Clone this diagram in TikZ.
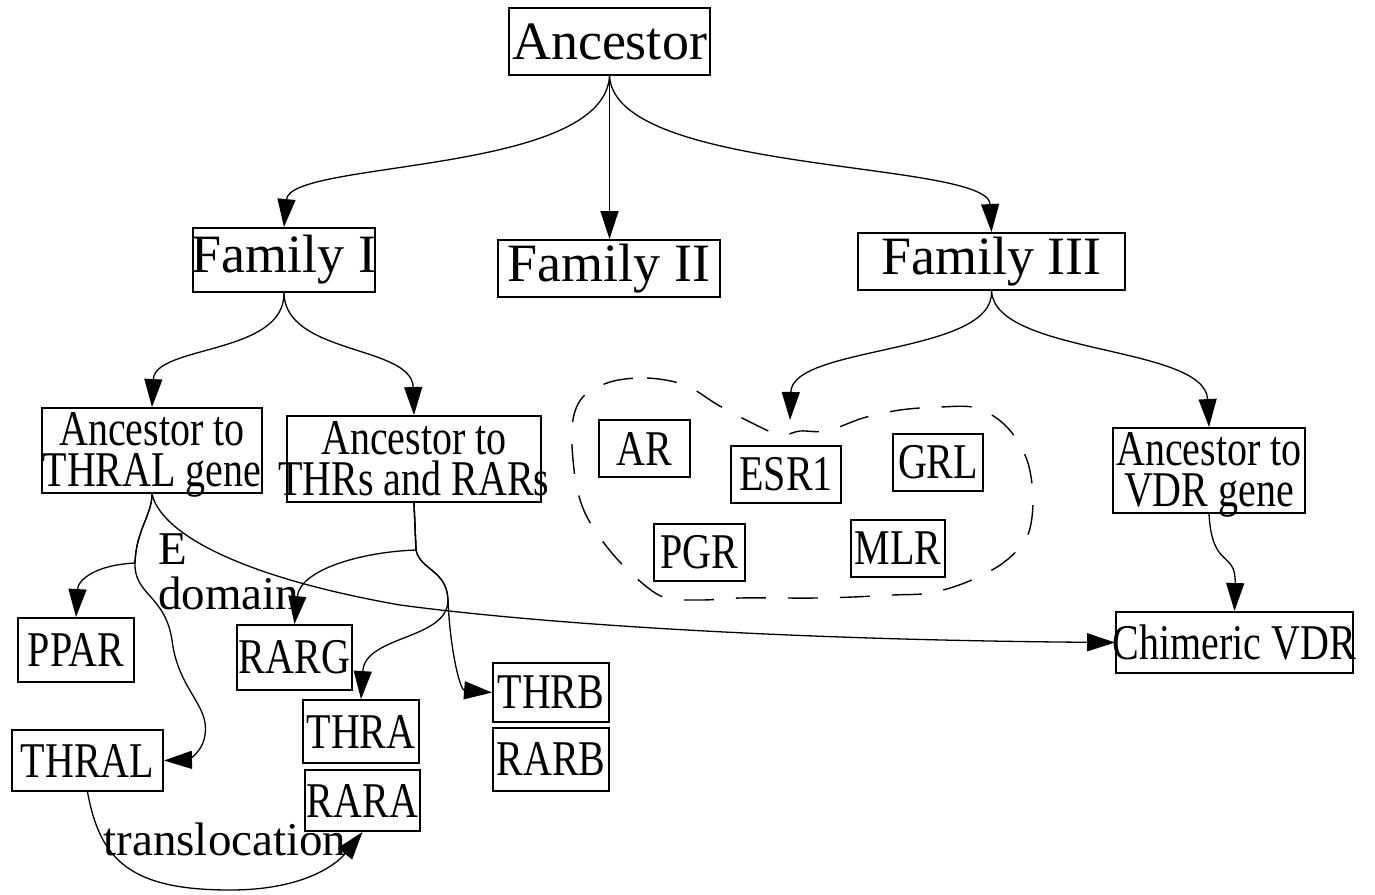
\documentclass[tikz,border=0pt]{standalone}
\usepackage{fontspec}
\setmainfont{Liberation Serif}
\newfontfamily\condfont[FakeStretch=0.8]{Liberation Serif}
\usetikzlibrary{arrows.meta}
\newcommand\zc[1]{\makebox[0pt]{#1}}
\begin{document}
\begin{tikzpicture}[x=1pt,y=-1pt,
  box/.style={draw, line width=1.9pt, inner sep=0pt, align=center},
  topbox/.style={box, font=\fontsize{54}{56}\selectfont},
  gene/.style={box, font=\condfont\fontsize{50}{41}\selectfont},
  twoline/.style={gene, text height=72pt, text depth=0pt},
  edge/.style={line width=1.3pt, -{Triangle[length=28pt,width=18pt]}},
  lbl/.style={font=\fontsize{47}{45}\selectfont, inner sep=0pt, align=left},
  clus/.style={line width=1.4pt, dash pattern=on 30pt off 22pt}]
\useasboundingbox (0,0) rectangle (1375,894);

% top level
\node[topbox, minimum width=201pt, minimum height=67pt] (anc) at (609.5,41.5) {\zc{Ancestor}};
\node[topbox, minimum width=182pt, minimum height=64pt] (f1) at (284,260) {\zc{Family I}};
\node[topbox, minimum width=222pt, minimum height=57pt] (f2) at (609,268.5) {\zc{Family II}};
\node[topbox, minimum width=267pt, minimum height=57pt] (f3) at (991.5,261.5) {\zc{Family III}};

% second level
\node[twoline, minimum width=220pt, minimum height=85pt] (athral) at (152,450.5) {\zc{Ancestor to}\\\zc{THRAL gene}};
\node[twoline, minimum width=254pt, minimum height=86pt] (athr) at (414,459) {\zc{Ancestor to}\\\zc{THRs and RARs}};
\node[twoline, minimum width=192pt, minimum height=85pt] (avdr) at (1209,470.5) {\zc{Ancestor to}\\\zc{VDR gene}};

% cluster
\draw[clus] plot[smooth cycle, tension=0.55] coordinates {
  (610,382) (647,378) (685,385) (718,405) (752,423) (780,435) (800,431) (827,431)
  (863,418) (900,410) (940,407) (977,408) (1007,427) (1027,460) (1033,500)
  (1027,537) (1003,563) (967,582) (930,593) (893,595) (853,597) (817,598)
  (777,598) (740,598) (700,600) (663,597) (633,575) (607,547) (585,513)
  (575,477) (572,427) (582,398)};
\coordinate (clu) at (790,420);
\node[gene, minimum width=91pt, minimum height=57pt] (ar) at (644.5,448.5) {\zc{AR}};
\node[gene, minimum width=110pt, minimum height=57pt] (esr) at (786,474.5) {\zc{ESR1}};
\node[gene, minimum width=90pt, minimum height=57pt] (grl) at (938,462.5) {\zc{GRL}};
\node[gene, minimum width=91pt, minimum height=57pt] (pgr) at (699.5,552.5) {\zc{PGR}};
\node[gene, minimum width=94pt, minimum height=57pt] (mlr) at (898,548.5) {\zc{MLR}};

% lower level
\node[gene, minimum width=237pt, minimum height=61pt] (cvdr) at (1234.5,642.5) {\zc{Chimeric VDR}};
\node[gene, minimum width=116pt, minimum height=64pt] (ppar) at (76,650) {\zc{PPAR}};
\node[gene, minimum width=115pt, minimum height=65pt] (rarg) at (294.5,657.5) {\zc{RARG}};
\node[gene, minimum width=116pt, minimum height=63pt] (thra) at (361,731.5) {\zc{THRA}};
\node[gene, minimum width=115pt, minimum height=61pt] (rara) at (362.5,800.5) {\zc{RARA}};
\node[gene, minimum width=116pt, minimum height=59pt] (thrb) at (551,692.5) {\zc{THRB}};
\node[gene, minimum width=116pt, minimum height=63pt] (rarb) at (551,759.5) {\zc{RARB}};
\node[gene, minimum width=151pt, minimum height=61pt] (thral) at (87.5,760.5) {\zc{THRAL}};

% edges from top
\draw[edge] (anc.south) .. controls (604,175) and (290,160) .. (f1.north);
\draw[edge] (anc.south) -- (anc.south |- f2.north);
\draw[edge] (anc.south) .. controls (615,175) and (988,160) .. (f3.north);
\draw[edge] (f1.south) .. controls (285,355) and (155,345) .. (athral.north);
\draw[edge] (f1.south) .. controls (285,355) and (412,345) .. (athr.north);
\draw[edge] (f3.south) .. controls (995,355) and (792,345) .. (clu);
\draw[edge] (f3.south) .. controls (995,355) and (1205,345) .. (avdr.north);
\draw[edge] (avdr.south) .. controls (1212,570) and (1236,550) .. (cvdr.north);

% edges from ancestor to THRAL gene
\draw[edge] (athral.south) .. controls (152,515) and (136,530) .. (135,563)
  .. controls (95,565) and (78,580) .. (ppar.north);
\draw[edge] (athral.south) .. controls (152,515) and (136,530) .. (135,563)
  .. controls (134,595) and (165,595) .. (172,640)
  .. controls (178,690) and (210,705) .. (205,735)
  .. controls (202,755) and (185,760) .. (thral.east);
\draw[edge] (athral.south) .. controls (160,530) and (230,575) .. (400,605)
  .. controls (550,625) and (800,640) .. (cvdr.west);
\node[lbl, anchor=base west] (edom) at (158,609) {E\\domain};

% edges from ancestor to THRs and RARs
\draw[edge] (athr.south) -- (416,550) .. controls (360,552) and (300,570) .. (rarg.north);
\draw[edge] (athr.south) -- (416,550) .. controls (420,570) and (447,570) .. (448,600)
  .. controls (448,640) and (365,635) .. (thra.north);
\draw[edge] (athr.south) -- (416,550) .. controls (420,570) and (447,570) .. (448,600)
  .. controls (450,650) and (460,690) .. (thrb.west);

% translocation
\draw[edge] (thral.south) .. controls (100,860) and (130,890) .. (230,890)
  .. controls (310,890) and (340,860) .. (rara.south);
\node[lbl, anchor=base] (trans) at (225,855) {translocation};
\end{tikzpicture}
\end{document}
